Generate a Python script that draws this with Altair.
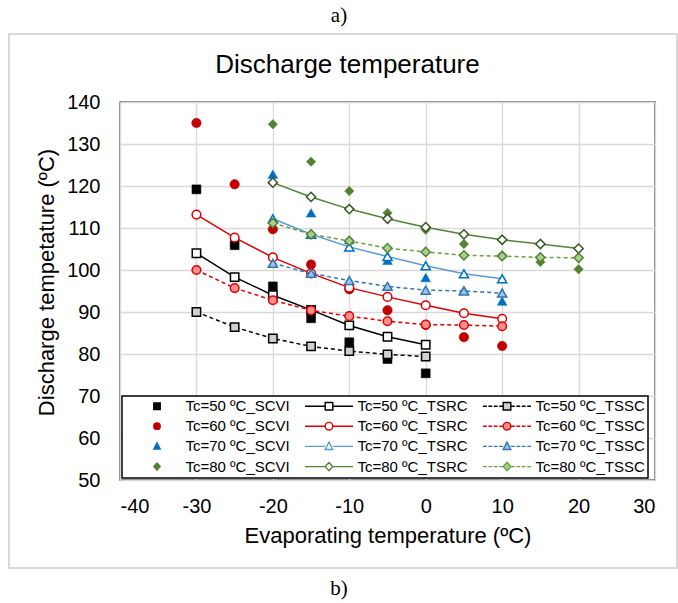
import altair as alt
import pandas as pd

FONT = "Liberation Sans"
SERIF = "Liberation Serif"

# ---------------- data ----------------
evap_50 = [-30, -25, -20, -15, -10, -5, 0]
evap_60 = [-30, -25, -20, -15, -10, -5, 0, 5, 10]
evap_70 = [-20, -15, -10, -5, 0, 5, 10]
evap_80 = [-20, -15, -10, -5, 0, 5, 10, 15, 20]

scvi_50 = [119.2, 105.9, 96.1, 88.5, 82.8, 78.8, 75.4]
tsrc_50 = [104.0, 98.3, 94.0, 90.5, 86.8, 84.1, 82.2]
tssc_50 = [90.0, 86.4, 83.7, 81.8, 80.7, 79.9, 79.4]

scvi_60 = [135.0, 120.4, 109.7, 101.3, 95.4, 90.4, 86.9, 84.0, 81.9]
tsrc_60 = [113.2, 107.7, 103.0, 99.2, 95.8, 93.6, 91.6, 89.7, 88.4]
tssc_60 = [100.0, 95.7, 92.8, 90.4, 89.0, 87.8, 87.0, 86.9, 86.6]

scvi_70 = [122.8, 113.6, 107.2, 102.3, 98.2, 95.2, 92.6]
tsrc_70 = [112.2, 108.5, 105.5, 103.2, 101.0, 99.1, 97.9]
tssc_70 = [101.6, 99.2, 97.5, 96.1, 95.2, 95.0, 94.5]

scvi_80 = [134.7, 125.8, 118.8, 113.6, 109.6, 106.2, 103.5, 101.9, 100.2]
tsrc_80 = [120.8, 117.4, 114.5, 112.2, 110.2, 108.5, 107.2, 106.2, 105.1]
tssc_80 = [111.2, 108.5, 106.9, 105.2, 104.3, 103.5, 103.3, 103.0, 102.9]

tc_levels = [50, 60, 70, 80]
kinds = ["SCVI", "TSRC", "TSSC"]
x_ticks = [-40, -30, -20, -10, 0, 10, 20, 30]
y_ticks = [50, 60, 70, 80, 90, 100, 110, 120, 130, 140]

series_values = {
    (50, "SCVI"): (evap_50, scvi_50), (50, "TSRC"): (evap_50, tsrc_50), (50, "TSSC"): (evap_50, tssc_50),
    (60, "SCVI"): (evap_60, scvi_60), (60, "TSRC"): (evap_60, tsrc_60), (60, "TSSC"): (evap_60, tssc_60),
    (70, "SCVI"): (evap_70, scvi_70), (70, "TSRC"): (evap_70, tsrc_70), (70, "TSSC"): (evap_70, tssc_70),
    (80, "SCVI"): (evap_80, scvi_80), (80, "TSRC"): (evap_80, tsrc_80), (80, "TSSC"): (evap_80, tssc_80),
}

def label(tc, kind):
    return f"Tc={tc} \u00baC_{kind}"

rows = []
for (tc, kind), (xs, ys) in series_values.items():
    for xv, yv in zip(xs, ys):
        rows.append({"tc": tc, "kind": kind, "series": label(tc, kind), "evap": xv, "temp": yv})
df = pd.DataFrame(rows)

# ---------------- styles ----------------
main_color = {50: "#000000", 60: "#C00000", 70: "#0070C0", 80: "#548235"}
tsrc_line = {50: "#000000", 60: "#E00000", 70: "#5B9BD5", 80: "#548235"}
tsrc_mark = {50: "#000000", 60: "#E00000", 70: "#0070C0", 80: "#385723"}
tssc_line = {50: "#000000", 60: "#E00000", 70: "#2E75B6", 80: "#6A9E3F"}
tssc_fill = {50: "#D0D0D0", 60: "#FF8F8F", 70: "#9DC3E6", 80: "#A9D18E"}
tssc_mark = {50: "#000000", 60: "#E00000", 70: "#2E75B6", 80: "#548235"}
shape_of = {50: "square", 60: "circle", 70: "triangle-up", 80: "diamond"}
size_scvi = {50: 80, 60: 90, 70: 95, 80: 90}
size_open = {50: 70, 60: 75, 70: 85, 80: 85}

hyphen_labels = "replace(datum.label, '\u2212', '-')"

x_enc = alt.X("evap:Q", scale=alt.Scale(domain=[-40, 30], nice=False),
              axis=alt.Axis(values=x_ticks, title="Evaporating temperature (\u00baC)",
                            labelExpr=hyphen_labels,
                            titleY=62.5, titleBaseline="alphabetic"))
y_enc = alt.Y("temp:Q", scale=alt.Scale(domain=[50, 140], nice=False, zero=False),
              axis=alt.Axis(values=y_ticks, title="Discharge tempetature (\u00baC)",
                            titleX=-67, titleY=180, titleBaseline="alphabetic"))

layers = []
base = alt.Chart(df)
for tc in tc_levels:
    for kind in kinds:
        sub = base.transform_filter((alt.datum.tc == tc) & (alt.datum.kind == kind))
        if kind == "SCVI":
            layers.append(sub.mark_point(shape=shape_of[tc], filled=True, fill=main_color[tc],
                                         stroke=main_color[tc], strokeWidth=0.5,
                                         size=size_scvi[tc], opacity=1).encode(x=x_enc, y=y_enc))
        elif kind == "TSRC":
            layers.append(sub.mark_line(color=tsrc_line[tc], strokeWidth=1.5).encode(x=x_enc, y=y_enc))
            layers.append(sub.mark_point(shape=shape_of[tc], filled=True, fill="#FFFFFF",
                                         stroke=tsrc_mark[tc], strokeWidth=1.5,
                                         size=size_open[tc], opacity=1).encode(x=x_enc, y=y_enc))
        else:
            layers.append(sub.mark_line(color=tssc_line[tc], strokeWidth=1.5,
                                        strokeDash=[4, 3]).encode(x=x_enc, y=y_enc))
            layers.append(sub.mark_point(shape=shape_of[tc], filled=True, fill=tssc_fill[tc],
                                         stroke=tssc_mark[tc], strokeWidth=1.5,
                                         size=size_open[tc], opacity=1).encode(x=x_enc, y=y_enc))

# ---------------- legend (symbols built as custom paths) ----------------
def marker_path(tc, m):
    if tc == 50:
        return f"M{-m},{-m}H{m}V{m}H{-m}Z"
    if tc == 60:
        return f"M{m},0A{m},{m} 0 1,1 {-m},0A{m},{m} 0 1,1 {m},0Z"
    if tc == 70:
        return f"M0,{-m * 1.15:.3f}L{m},{m * 0.8:.3f}L{-m},{m * 0.8:.3f}Z"
    return f"M0,{-m * 1.1:.3f}L{m},0L0,{m * 1.1:.3f}L{-m},0Z"

invisible_span = "M-6,0M6,0"   # only widens the symbol bounds so all columns align alike
solid = "M-6,0H-1M1,0H6"
dashed = ("M-6,0H-5.05M-4.65,0H-3.7M-3.3,0H-2.35M-1.95,0H-1"
          "M1,0H1.95M2.35,0H3.3M3.7,0H4.65M5.05,0H6")

# legend entries fill column by column: SCVI column, TSRC column, TSSC column
leg_domain, leg_shape, leg_fill, leg_stroke = [], [], [], []
for kind in kinds:
    for tc in tc_levels:
        leg_domain.append(label(tc, kind))
        if kind == "SCVI":
            leg_shape.append(invisible_span + marker_path(tc, 0.8))
            leg_fill.append(main_color[tc])
            leg_stroke.append(main_color[tc])
        elif kind == "TSRC":
            leg_shape.append(solid + marker_path(tc, 0.95))
            leg_fill.append("#FFFFFF")
            leg_stroke.append(tsrc_line[tc])
        else:
            leg_shape.append(dashed + marker_path(tc, 0.95))
            leg_fill.append(tssc_fill[tc])
            leg_stroke.append(tssc_line[tc])

legend = alt.Legend(title=None, orient="none", legendX=2, legendY=294, columns=3,
                    symbolSize=64, symbolStrokeWidth=1.4, symbolOffset=25,
                    labelOffset=21, labelFontSize=15, labelFont=FONT, labelColor="#000000",
                    labelLimit=220, padding=2.5, rowPadding=4.2, columnPadding=6,
                    strokeColor="#000000", fillColor="#FFFFFF")

legend_layer = alt.Chart(pd.DataFrame({"series": leg_domain})).transform_filter("false").mark_point(
    opacity=1).encode(
    shape=alt.Shape("series:N", scale=alt.Scale(domain=leg_domain, range=leg_shape), legend=legend),
    fill=alt.Fill("series:N", scale=alt.Scale(domain=leg_domain, range=leg_fill), legend=legend),
    stroke=alt.Stroke("series:N", scale=alt.Scale(domain=leg_domain, range=leg_stroke), legend=legend),
)

# ---------------- texts and frame ----------------
title_layer = alt.Chart(pd.DataFrame({"t": ["Discharge temperature"]})).mark_text(
    font=FONT, fontSize=26, color="#000000", align="center", baseline="alphabetic").encode(
    text="t:N", x=alt.value(227.5), y=alt.value(-28.7))

a_layer = alt.Chart(pd.DataFrame({"t": ["a)"]})).mark_text(
    font=SERIF, fontSize=21, color="#000000", align="center", baseline="alphabetic").encode(
    text="t:N", x=alt.value(219), y=alt.value(-80))

b_layer = alt.Chart(pd.DataFrame({"t": ["b)"]})).mark_text(
    font=SERIF, fontSize=21, color="#000000", align="center", baseline="alphabetic").encode(
    text="t:N", x=alt.value(219), y=alt.value(493))

frame_layer = alt.Chart(pd.DataFrame({"f": [0]})).mark_rect(
    fill="transparent", stroke="#D9D9D9", strokeWidth=2).encode(
    x=alt.value(-111), x2=alt.value(557), y=alt.value(-68), y2=alt.value(466))

chart = alt.layer(frame_layer, *layers, legend_layer, title_layer, a_layer, b_layer).properties(
    width=535, height=378,
    autosize=alt.AutoSizeParams(type="none"),
    padding={"left": 120, "top": 102, "right": 23, "bottom": 123},
    background="#FFFFFF",
).configure_view(
    stroke="#000000", strokeWidth=1.3
).configure_axis(
    grid=True, gridColor="#D9D9D9", gridWidth=1.3, domain=False, ticks=False, tickSize=0,
    labelFont=FONT, labelFontSize=20, labelColor="#000000",
    titleFont=FONT, titleFontSize=22, titleFontWeight="normal", titleColor="#000000",
).configure_axisX(
    labelPadding=16
).configure_axisY(
    labelPadding=20
).configure_legend(
    strokeWidth=1.5
)

chart.save("out.html", embed_options={"renderer": "svg", "actions": False})
